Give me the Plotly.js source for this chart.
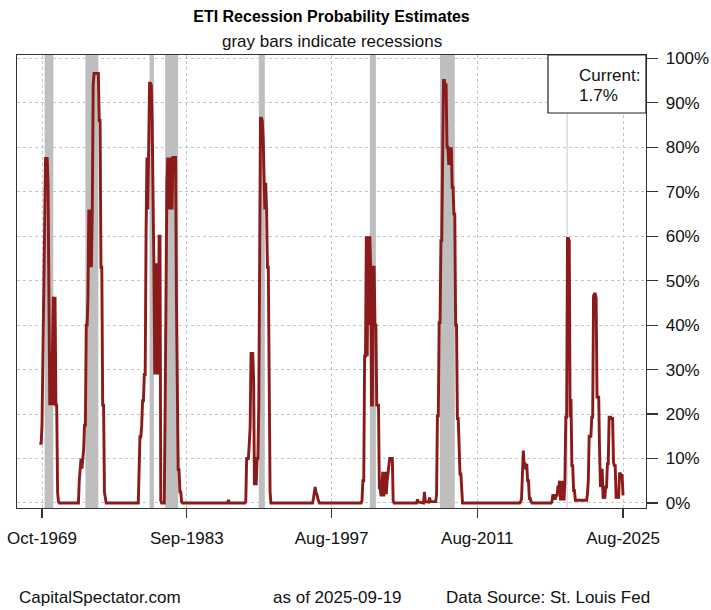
<!DOCTYPE html>
<html>
<head>
<meta charset="utf-8">
<script src="https://cdn.plot.ly/plotly-3.0.1.min.js"></script>
<style>
  html, body { margin: 0; padding: 0; background: #ffffff; }
  #chart { width: 711px; height: 610px; }
</style>
</head>
<body>
<div id="chart"></div>
<script>
// ---- Data (monthly vertices) ----
const months = [
  '1969-07','1969-08','1969-09','1969-10','1969-11','1969-12',
  '1970-01','1970-02','1970-03','1970-04','1970-05','1970-06','1970-07','1970-08','1970-09','1970-10','1970-11','1970-12',
  '1971-01','1971-02','1971-03','1971-04','1971-05','1971-06',
  '1973-04','1973-05','1973-06','1973-07','1973-08','1973-09','1973-10','1973-11','1973-12',
  '1974-01','1974-02','1974-03','1974-04','1974-05','1974-06','1974-07','1974-08','1974-09','1974-10','1974-11','1974-12',
  '1975-01','1975-02','1975-03','1975-04','1975-05','1975-06','1975-07','1975-08','1975-09','1975-10','1975-11','1975-12',
  '1979-01','1979-02','1979-03','1979-04','1979-05','1979-06','1979-07','1979-08','1979-09','1979-10','1979-11','1979-12',
  '1980-01','1980-02','1980-03','1980-04','1980-05','1980-06','1980-07','1980-08','1980-09','1980-10','1980-11','1980-12',
  '1981-01','1981-02','1981-03','1981-04','1981-07','1981-08','1981-09','1981-10','1981-11','1981-12',
  '1982-01','1982-02','1982-03','1982-04','1982-05','1982-06','1982-07','1982-08','1982-09','1982-10','1982-11','1982-12',
  '1983-01','1983-02','1983-03','1983-04',
  '1987-08','1987-09','1987-10',
  '1989-04','1989-05','1989-06','1989-07','1989-08','1989-09','1989-10','1989-11','1989-12',
  '1990-01','1990-02','1990-03','1990-04','1990-05','1990-06','1990-07','1990-08','1990-09','1990-10','1990-11','1990-12',
  '1991-01','1991-02','1991-03','1991-04','1991-05','1991-06','1991-07','1991-08','1991-09','1991-10',
  '1995-10','1995-11','1995-12','1996-01','1996-02','1996-03','1996-04','1996-05','1996-06',
  '2000-06','2000-07','2000-08','2000-09','2000-10','2000-11','2000-12',
  '2001-01','2001-02','2001-03','2001-04','2001-05','2001-06','2001-07','2001-08','2001-09','2001-10','2001-11','2001-12',
  '2002-01','2002-02','2002-03','2002-04','2002-05','2002-06','2002-07','2002-08','2002-09','2002-10','2002-11','2002-12',
  '2003-01','2003-02','2003-03','2003-04','2003-05','2003-06','2003-07','2003-08',
  '2005-10','2005-11','2005-12','2006-06','2006-07','2006-08','2006-12','2007-01','2007-02',
  '2007-08','2007-09','2007-10','2007-11','2007-12',
  '2008-01','2008-02','2008-03','2008-04','2008-05','2008-06','2008-07','2008-08','2008-09','2008-10','2008-11','2008-12',
  '2009-01','2009-02','2009-03','2009-04','2009-05','2009-06','2009-07','2009-08','2009-09','2009-10','2009-11','2009-12',
  '2010-01','2010-02','2010-03',
  '2015-09','2015-10','2015-11','2015-12',
  '2016-01','2016-02','2016-03','2016-04','2016-05','2016-06','2016-07','2016-08','2016-09','2016-10','2016-11',
  '2018-09','2018-10','2018-11','2018-12',
  '2019-01','2019-02','2019-03','2019-04','2019-05','2019-06','2019-07','2019-08','2019-09','2019-10','2019-11','2019-12',
  '2020-01','2020-02','2020-03','2020-04','2020-05','2020-06','2020-07','2020-08','2020-09','2020-10','2020-11','2020-12',
  '2021-01','2022-02','2022-03','2022-04','2022-05','2022-06','2022-07','2022-08','2022-09','2022-10','2022-11','2022-12',
  '2023-01','2023-02','2023-03','2023-04','2023-05','2023-06','2023-07','2023-08','2023-09','2023-10','2023-11','2023-12',
  '2024-01','2024-02','2024-03','2024-04','2024-05','2024-06','2024-07','2024-08','2024-09','2024-10','2024-11','2024-12',
  '2025-01','2025-02','2025-03','2025-04','2025-05','2025-06','2025-07','2025-08'
];
const probability = [
  13.4,13.4,13.4,17.5,33.6,53,
  72,77.5,77.5,77.5,72,33.6,22,33.6,22,33.6,46.4,22,
  46.4,22,22,2.5,0.3,0,
  0,5,7.7,10,7.7,10,12,17.5,17.5,
  40,40,46,66,53,66,53,66,94,96.6,96.6,96.6,
  96.6,96.6,96.6,86,86,53,53,22,22,2.5,0.3,0,
  0,10,14.9,14.9,17.5,23,23,28.9,28.9,60.5,77.7,66,
  77.7,94.4,94.4,94,86,72,53.9,28.9,53.9,28.9,53.9,28.9,
  60,60,0.5,0,0,21.5,57,72,77.7,66,
  77.7,66,77.7,66,77.7,77.7,77.7,77.7,46,15.6,7.5,7.5,
  2.5,2.5,0.3,0,
  0,0.7,0,
  0,0.3,10,10,10,13.4,17,33.6,33.6,
  33.6,27.6,4,10,4,10,10,22,53,86.5,86.5,86,
  82,72,66,72,66,53,53,27.6,2.5,0,
  0,1,2.5,3.6,2.2,2,1,0.3,0,
  0,0.5,5,5,33,33,60,
  33,60,40,60,53,22,22,53,53,40,40,22,
  22,22,3.4,3.4,1.5,5,7,1.5,3.4,7,2,5,
  7,9,10,10,10,10,0.5,0,
  0,0.8,0.2,0,2.5,0.3,0.2,1.2,0.3,
  0.3,2,19.6,19.6,40.6,
  40.6,59,59,84,95,95,94,94,80,80,76,80,
  76,80,71,71,65,65,40,40,19,19,12,6.5,
  6.5,0.3,0,
  0,0.3,1,5,
  11.8,8.8,9,7.5,8.8,5,5,1,1,0.3,0,
  0,0.3,1.7,1.7,
  1,1,1.7,1.7,3.6,3.6,5,0.6,5,0.6,5,0.6,
  5,19.3,19.3,59.5,59.5,59,19.3,23.4,8.4,8.4,2.8,2.8,
  0.6,0.6,2,5,15,15,15,19.3,19.3,46.6,47,47,
  46,23.8,23.8,23.8,11.8,3.6,5,7.7,1,1.3,1,3.6,
  3.6,8.8,8.8,19.3,19.3,19.3,19,19,9.2,8.4,8.4,1.3,
  1.3,1.3,1.3,6.6,6.6,6.2,6.2,1.7
];
// NBER recession months (first and last recession month)
const recessionStart = ['1970-01','1973-12','1980-02','1981-08','1990-08','2001-04','2008-01','2020-03'];
const recessionEnd   = ['1970-11','1975-03','1980-07','1982-11','1991-03','2001-11','2009-06','2020-04'];
// x-axis tick labels
const tickDates  = ['1969-10-01','1983-09-01','1997-08-01','2011-08-01','2025-08-01'];
const tickLabels = ['Oct-1969','Sep-1983','Aug-1997','Aug-2011','Aug-2025'];
const yTicks = [0,10,20,30,40,50,60,70,80,90,100];

// ---- Layout geometry ----
const W = 711, H = 610;
const mL = 17, mR = 65, mT = 55, mB = 102;
const plotW = W - mL - mR, plotH = H - mT - mB;
// x-range so first/last tick land at the reference pixel positions
const t0 = Date.UTC(1969, 9, 1), t1 = Date.UTC(2025, 7, 1);
const px0 = 42 - mL, px1 = 623 - mL;
const msPerPx = (t1 - t0) / (px1 - px0);
const xMin = new Date(t0 - px0 * msPerPx).toISOString().slice(0, 10);
const xMax = new Date(t1 + (plotW - px1) * msPerPx).toISOString().slice(0, 10);
const yRange = [-1.13, 100.74];

const fontFam = '"Liberation Sans", Arial, sans-serif';
const txt = '#111111';
const pY = (py) => (mT + plotH - py) / plotH;   // pixel y -> paper
const pX = (px) => (px - mL) / plotW;           // pixel x -> paper

const shapes = recessionStart.map((s, i) => ({
  type: 'rect', xref: 'x', yref: 'paper',
  x0: s + '-01', x1: recessionEnd[i] + '-01', y0: 0, y1: 1,
  fillcolor: '#BEBEBE', line: { width: 0 }, layer: 'between'
}));
// legend box
shapes.push({
  type: 'rect', xref: 'paper', yref: 'paper',
  x0: pX(548), x1: 1, y0: pY(113), y1: 1,
  fillcolor: '#ffffff', line: { color: '#222', width: 1.2 }, layer: 'above'
});

const current = probability[probability.length - 1].toFixed(1) + '%';

const trace = {
  x: months.map(m => m + '-01'),
  y: probability,
  type: 'scatter', mode: 'lines',
  line: { color: '#8B1A1A', width: 2.9 },
  hoverinfo: 'skip'
};

const layout = {
  width: W, height: H,
  margin: { l: mL, r: mR, t: mT, b: mB, pad: 0 },
  paper_bgcolor: '#ffffff', plot_bgcolor: '#ffffff',
  showlegend: false,
  font: { family: fontFam, size: 17, color: txt },
  title: {
    text: '<b>ETI Recession Probability Estimates</b>',
    font: { family: fontFam, size: 16, color: '#000' },
    xref: 'paper', x: 0.5, xanchor: 'center',
    yref: 'container', y: 1 - 16 / H, yanchor: 'middle'
  },
  xaxis: {
    type: 'date', range: [xMin, xMax],
    tickmode: 'array', tickvals: tickDates, ticktext: tickLabels,
    ticks: 'outside', ticklen: 9, tickwidth: 1.2, tickcolor: '#333',
    ticklabelstandoff: 5,
    tickfont: { family: fontFam, size: 17, color: txt },
    showgrid: true, gridcolor: '#C4C4C4', griddash: '3px,3px', gridwidth: 1,
    zeroline: false, showline: true, mirror: true, linecolor: '#333', linewidth: 1.3
  },
  yaxis: {
    side: 'right', range: yRange,
    tickmode: 'array', tickvals: yTicks, ticktext: yTicks.map(v => v + '%'),
    ticks: 'outside', ticklen: 11, tickwidth: 1.2, tickcolor: '#333',
    ticklabelstandoff: 4,
    tickfont: { family: fontFam, size: 17, color: txt },
    showgrid: true, gridcolor: '#C4C4C4', griddash: '3px,3px', gridwidth: 1,
    zeroline: false, showline: true, mirror: true, linecolor: '#333', linewidth: 1.3
  },
  shapes: shapes,
  annotations: [
    { text: 'gray bars indicate recessions', xref: 'paper', yref: 'paper',
      x: 0.5, y: pY(41), xanchor: 'center', yanchor: 'middle', showarrow: false,
      font: { family: fontFam, size: 17, color: txt } },
    { text: 'Current:', xref: 'paper', yref: 'paper',
      x: pX(577), y: pY(75.5), xanchor: 'left', yanchor: 'middle', showarrow: false,
      font: { family: fontFam, size: 17, color: txt } },
    { text: current, xref: 'paper', yref: 'paper',
      x: pX(577), y: pY(95), xanchor: 'left', yanchor: 'middle', showarrow: false,
      font: { family: fontFam, size: 17, color: txt } },
    { text: 'CapitalSpectator.com', xref: 'paper', yref: 'paper',
      x: pX(17), y: pY(597), xanchor: 'left', yanchor: 'middle', showarrow: false,
      font: { family: fontFam, size: 17, color: txt } },
    { text: 'as of 2025-09-19', xref: 'paper', yref: 'paper',
      x: pX(271), y: pY(597), xanchor: 'left', yanchor: 'middle', showarrow: false,
      font: { family: fontFam, size: 17, color: txt } },
    { text: 'Data Source: St. Louis Fed', xref: 'paper', yref: 'paper',
      x: pX(444), y: pY(597), xanchor: 'left', yanchor: 'middle', showarrow: false,
      font: { family: fontFam, size: 17, color: txt } }
  ]
};

Plotly.newPlot('chart', [trace], layout, { staticPlot: true, displayModeBar: false });
</script>
</body>
</html>
